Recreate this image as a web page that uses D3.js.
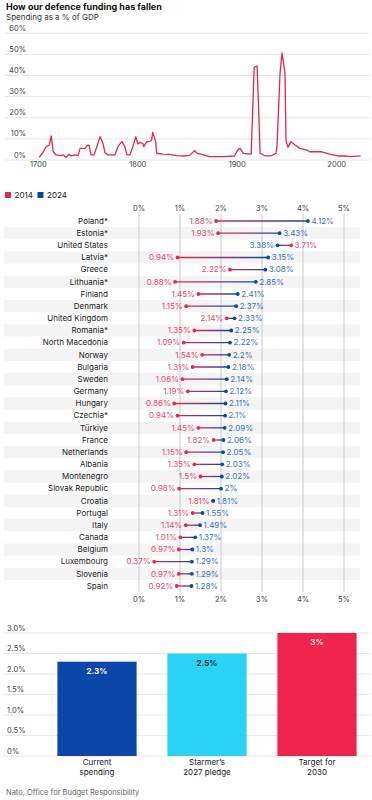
<!DOCTYPE html>
<html>
<head>
<meta charset="utf-8">
<script src="https://cdn.jsdelivr.net/npm/d3@7"></script>
<style>
  body { margin: 0; background: #fff; }
  svg text { font-family: Inter, "Noto Sans", sans-serif; }
</style>
</head>
<body>
<script>
// Defence spending as % of GDP
const histYears = [1701, 1705, 1708, 1711, 1713, 1715, 1718, 1722, 1725, 1728, 1731, 1733, 1737, 1740,
  1742, 1747, 1749, 1751, 1753, 1756, 1760, 1762, 1765, 1767, 1770, 1777, 1780, 1784, 1787, 1789,
  1792, 1795, 1798, 1800, 1802, 1805, 1806, 1809, 1812, 1814, 1815, 1818, 1819, 1825, 1832, 1839,
  1846, 1852, 1857, 1860, 1866, 1872, 1886, 1897, 1901, 1903, 1906, 1914, 1917, 1920, 1923, 1928,
  1934, 1939, 1940, 1943, 1945, 1948, 1949, 1951, 1954, 1958, 1963, 1970, 1973, 1985, 1993, 2001,
  2010, 2013, 2024];
const histValues = [1.3, 3.9, 6.3, 7.1, 11.4, 3.9, 2.4, 2.1, 2.4, 1.3, 2.7, 1.9, 2.4, 2.1,
  5.5, 5.5, 6.8, 7.0, 2.4, 2.4, 7.9, 11.1, 7.9, 3.5, 2.4, 2.4, 6.3, 8.7, 6.3, 2.4,
  2.4, 6.3, 11.1, 7.6, 8.2, 7.9, 6.3, 8.7, 8.7, 9.5, 13.1, 8.7, 3.2, 2.8, 2.7, 2.1,
  1.9, 2.2, 4.4, 3.1, 2.4, 1.6, 1.6, 1.9, 5.0, 5.5, 3.1, 2.8, 44, 44.4, 3.1, 2.0,
  2.0, 3.1, 7, 41, 50.7, 41, 9.4, 6, 8.7, 7.1, 5.5, 4.7, 3.9, 3.9, 2.8, 1.9,
  1.9, 1.6, 2.0];
const histTicksY = [0, 10, 20, 30, 40, 50, 60];
const histTicksX = [1700, 1800, 1900, 2000];

// Nato members, 2014 vs 2024
const countries = ["Poland*", "Estonia*", "United States", "Latvia*", "Greece", "Lithuania*", "Finland",
  "Denmark", "United Kingdom", "Romania*", "North Macedonia", "Norway", "Bulgaria", "Sweden", "Germany",
  "Hungary", "Czechia*", "Türkiye", "France", "Netherlands", "Albania", "Montenegro", "Slovak Republic",
  "Croatia", "Portugal", "Italy", "Canada", "Belgium", "Luxembourg", "Slovenia", "Spain"];
const v2014 = [1.88, 1.93, 3.71, 0.94, 2.22, 0.88, 1.45, 1.15, 2.14, 1.35, 1.09, 1.54, 1.31, 1.06, 1.19,
  0.86, 0.94, 1.45, 1.82, 1.15, 1.35, 1.5, 0.98, 1.81, 1.31, 1.14, 1.01, 0.97, 0.37, 0.97, 0.92];
const v2024 = [4.12, 3.43, 3.38, 3.15, 3.08, 2.85, 2.41, 2.37, 2.33, 2.25, 2.22, 2.2, 2.18, 2.14, 2.12,
  2.11, 2.1, 2.09, 2.06, 2.05, 2.03, 2.02, 2, 1.81, 1.55, 1.49, 1.37, 1.3, 1.29, 1.29, 1.28];
const dumbTicks = [0, 1, 2, 3, 4, 5];

// UK targets
const barCats = ["Current spending", "Starmer’s 2027 pledge", "Target for 2030"];
const barLines = [["Current", "spending"], ["Starmer’s", "2027 pledge"], ["Target for", "2030"]];
const barValues = [2.3, 2.5, 3];
const barTicks = [0, 0.5, 1, 1.5, 2, 2.5, 3];

const red = "#e3274f", blue = "#0c47a6";
const redText = "#e9466d", blueText = "#3a6fc3";

const width = 372, height = 800;
const svg = d3.select("body").append("svg")
    .attr("width", width)
    .attr("height", height);

svg.append("text")
    .attr("x", 6).attr("y", 9.5)
    .attr("font-size", 9).attr("font-weight", 700).attr("fill", "#111")
    .text("How our defence funding has fallen");
svg.append("text")
    .attr("x", 6).attr("y", 19.5)
    .attr("font-size", 8).attr("fill", "#333")
    .text("Spending as a % of GDP");

// ---- line chart ----
const x = d3.scaleLinear().domain([1700, 2025]).range([38.3, 361.6]);
const y = d3.scaleLinear().domain([0, 60]).range([160, 33.3]);

const lineG = svg.append("g");
lineG.selectAll("line.grid")
  .data(histTicksY)
  .join("line")
    .attr("x1", 5).attr("x2", 370)
    .attr("y1", d => y(d)).attr("y2", d => y(d))
    .attr("stroke", "#e6e6e6");
lineG.selectAll("text.yl")
  .data(histTicksY)
  .join("text")
    .attr("x", 26).attr("y", d => y(d) - 2.5)
    .attr("text-anchor", "end")
    .attr("font-size", 7.5).attr("fill", "#444")
    .text(d => d + "%");
lineG.selectAll("text.xl")
  .data(histTicksX)
  .join("text")
    .attr("x", d => x(d)).attr("y", 167)
    .attr("text-anchor", "middle")
    .attr("font-size", 7.5).attr("fill", "#444")
    .text(d => d);

const hist = histYears.map((yr, i) => ({ yr, v: histValues[i] }));
lineG.append("path")
    .datum(hist)
    .attr("fill", "none")
    .attr("stroke", red)
    .attr("stroke-width", 1.3)
    .attr("stroke-linejoin", "round")
    .attr("d", d3.line().x(d => x(d.yr)).y(d => y(d.v)));

// ---- legend ----
const legend = svg.append("g").attr("transform", "translate(5,195)");
legend.append("rect").attr("x", 0).attr("y", -3).attr("width", 6).attr("height", 6).attr("fill", red);
legend.append("text").attr("x", 9.5).attr("y", 3).attr("font-size", 8).attr("fill", "#222").text("2014");
legend.append("rect").attr("x", 32.5).attr("y", -3).attr("width", 6).attr("height", 6).attr("fill", blue);
legend.append("text").attr("x", 42).attr("y", 3).attr("font-size", 8).attr("fill", "#222").text("2024");

// ---- dumbbell chart ----
const xd = d3.scaleLinear().domain([0, 5]).range([139, 344]);
const yd = d3.scaleBand().domain(countries).range([214.9, 592.1]);
const rows = countries.map((c, i) => ({ c, i, a: v2014[i], b: v2024[i] }));

const dumb = svg.append("g");
dumb.selectAll("rect.stripe")
  .data(rows.filter(d => d.i % 2 === 1))
  .join("rect")
    .attr("x", 4).attr("width", 356)
    .attr("y", d => yd(d.c)).attr("height", yd.bandwidth())
    .attr("fill", "#f4f4f4");

dumb.selectAll("line.vgrid")
  .data(dumbTicks)
  .join("line")
    .attr("x1", d => xd(d)).attr("x2", d => xd(d))
    .attr("y1", 214).attr("y2", 592)
    .attr("stroke", "#c9c9c9");

[211, 602].forEach(ty => {
  dumb.append("g").selectAll("text")
    .data(dumbTicks)
    .join("text")
      .attr("x", d => xd(d)).attr("y", ty)
      .attr("text-anchor", "middle")
      .attr("font-size", 7.5).attr("fill", "#444")
      .text(d => d + "%");
});

dumb.selectAll("text.country")
  .data(rows)
  .join("text")
    .attr("x", 108).attr("y", d => yd(d.c) + yd.bandwidth() / 2 + 2.8)
    .attr("text-anchor", "end")
    .attr("font-size", 8).attr("fill", "#222")
    .text(d => d.c);

const defs = svg.append("defs");
rows.forEach(d => {
  const g = defs.append("linearGradient")
      .attr("id", "grad" + d.i)
      .attr("gradientUnits", "userSpaceOnUse")
      .attr("x1", xd(d.a)).attr("x2", xd(d.b))
      .attr("y1", 0).attr("y2", 0);
  g.append("stop").attr("offset", "0%").attr("stop-color", red);
  g.append("stop").attr("offset", "100%").attr("stop-color", blue);
});

const cy = d => yd(d.c) + yd.bandwidth() / 2;
dumb.selectAll("line.bar")
  .data(rows)
  .join("line")
    .attr("x1", d => xd(d.a)).attr("x2", d => xd(d.b))
    .attr("y1", cy).attr("y2", cy)
    .attr("stroke", d => `url(#grad${d.i})`)
    .attr("stroke-width", 1.3);

dumb.selectAll("circle.a")
  .data(rows)
  .join("circle")
    .attr("cx", d => xd(d.a)).attr("cy", cy).attr("r", 1.9)
    .attr("fill", red);
dumb.selectAll("circle.b")
  .data(rows)
  .join("circle")
    .attr("cx", d => xd(d.b)).attr("cy", cy).attr("r", 1.9)
    .attr("fill", blue);

// the lower value is labelled on the left, the higher on the right
dumb.selectAll("text.la")
  .data(rows)
  .join("text")
    .attr("x", d => d.a <= d.b ? xd(d.a) - 3.5 : xd(d.a) + 3.5)
    .attr("text-anchor", d => d.a <= d.b ? "end" : "start")
    .attr("y", d => cy(d) + 2.8)
    .attr("font-size", 8).attr("fill", redText)
    .text(d => d.a + "%");
dumb.selectAll("text.lb")
  .data(rows)
  .join("text")
    .attr("x", d => d.a <= d.b ? xd(d.b) + 3.5 : xd(d.b) - 3.5)
    .attr("text-anchor", d => d.a <= d.b ? "start" : "end")
    .attr("y", d => cy(d) + 2.8)
    .attr("font-size", 8).attr("fill", blueText)
    .text(d => d.b + "%");

// ---- bar chart ----
const xb = d3.scaleBand().domain(barCats).range([42, 372]).paddingInner(0.28).paddingOuter(0.14);
const yb = d3.scaleLinear().domain([0, 3]).range([756, 633]);
const barColors = ["#0b47ab", "#2ad3f6", "#f0234c"];
const barLabelColors = ["#fff", "#10243c", "#ffe4ea"];

const barG = svg.append("g");
barG.selectAll("line.hgrid")
  .data(barTicks)
  .join("line")
    .attr("x1", 4).attr("x2", 370)
    .attr("y1", d => yb(d)).attr("y2", d => yb(d))
    .attr("stroke", "#e6e6e6");
barG.selectAll("text.yl")
  .data(barTicks)
  .join("text")
    .attr("x", 7).attr("y", d => yb(d) - 2.5)
    .attr("font-size", 7.5).attr("fill", "#444")
    .text(d => d === 0 ? "0%" : d.toFixed(1) + "%");

const bars = barCats.map((c, i) => ({ c, i, v: barValues[i] }));
barG.selectAll("rect.bar")
  .data(bars)
  .join("rect")
    .attr("x", d => xb(d.c)).attr("width", xb.bandwidth())
    .attr("y", d => yb(d.v)).attr("height", d => yb(0) - yb(d.v))
    .attr("fill", d => barColors[d.i]);
barG.selectAll("text.val")
  .data(bars)
  .join("text")
    .attr("x", d => xb(d.c) + xb.bandwidth() / 2)
    .attr("y", d => yb(d.v) + 12)
    .attr("text-anchor", "middle")
    .attr("font-size", 8).attr("font-weight", 700)
    .attr("fill", d => barLabelColors[d.i])
    .text(d => d.v + "%");

bars.forEach(d => {
  const t = barG.append("text")
      .attr("text-anchor", "middle")
      .attr("font-size", 8).attr("fill", "#222");
  barLines[d.i].forEach((ln, k) => {
    t.append("tspan")
        .attr("x", xb(d.c) + xb.bandwidth() / 2)
        .attr("y", 765 + k * 10)
        .text(ln);
  });
});

svg.append("text")
    .attr("x", 6).attr("y", 795)
    .attr("font-size", 7.5).attr("fill", "#666")
    .text("Nato, Office for Budget Responsibility");
</script>
</body>
</html>
